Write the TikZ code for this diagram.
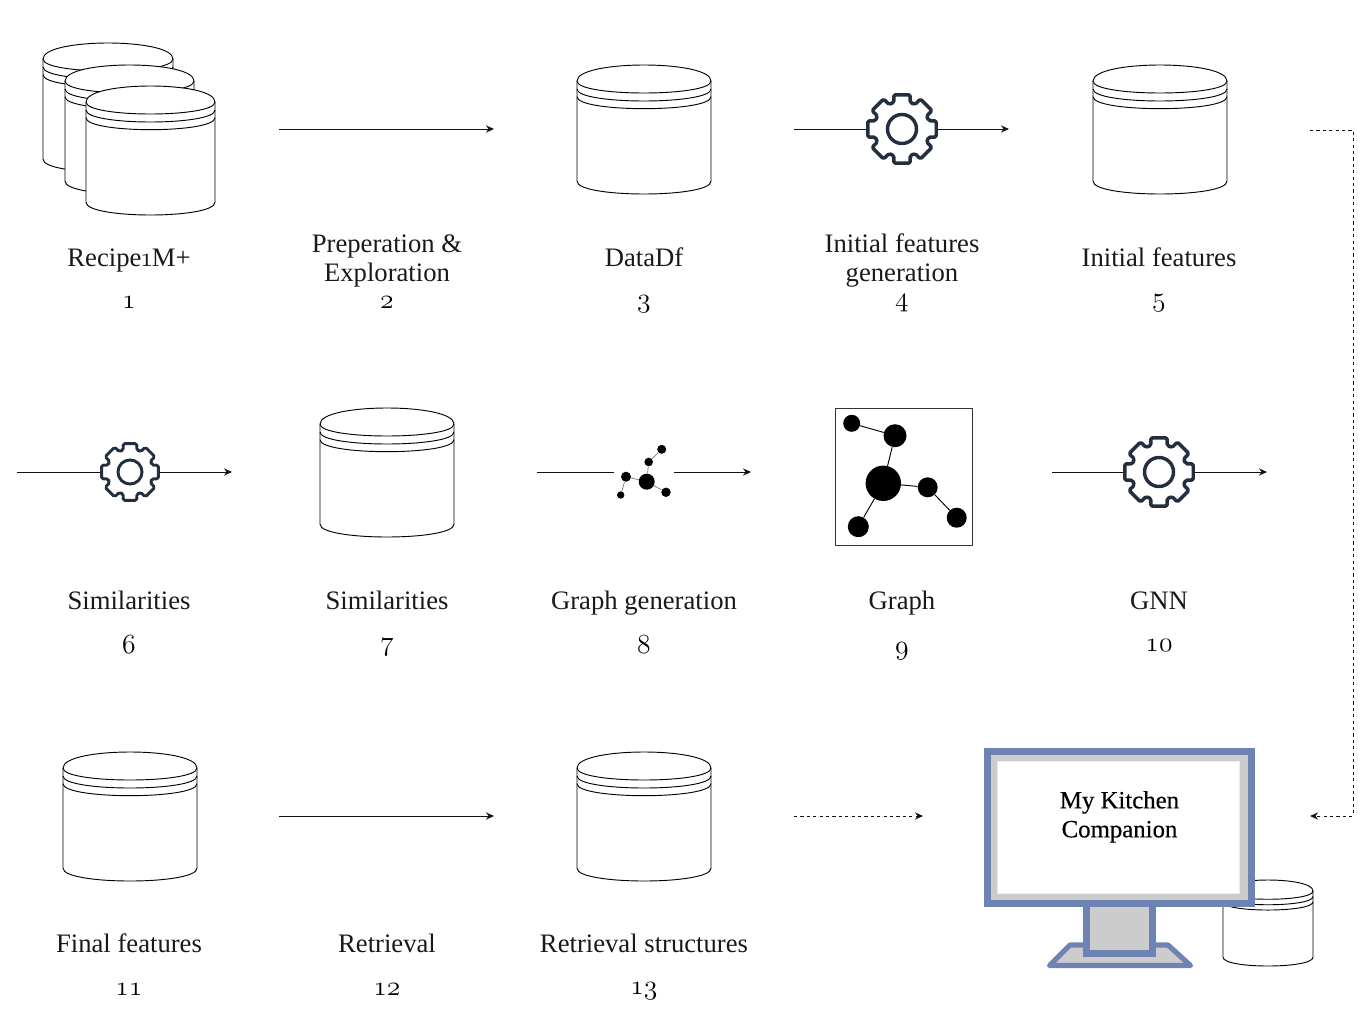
\documentclass[tikz,border=0pt]{standalone}
\usepackage{fontspec}
\setmainfont{Liberation Serif}
\newfontfamily\monfont[FakeBold=0.35]{Liberation Serif}
\usetikzlibrary{arrows.meta}
\definecolor{gearcol}{HTML}{232F3E}
\definecolor{monblue}{HTML}{6C83B4}
\definecolor{mongray}{HTML}{CCCCCC}
\definecolor{linecol}{HTML}{111111}
\tikzset{
  x=0.75pt,y=-0.75pt,
  cyl/.style={draw=black,line width=0.7pt,fill=white},
  flow/.style={draw=linecol,line width=0.7pt,-{Stealth[length=6pt,width=5.4pt]}},
  dashflow/.style={flow,dash pattern=on 2.4pt off 2.4pt},
  plainflow/.style={draw=linecol,line width=0.7pt},
  lab/.style={font=\fontsize{20}{21.75}\selectfont,align=center,inner sep=0pt,text=black!90},
  num/.style={font=\fontsize{22.5}{21.75}\selectfont,inner sep=0pt,anchor=base,text=black},
  dot/.style={circle,fill=black,inner sep=0pt},
  gearline/.style={draw=gearcol,fill=white,line join=round},
}
\newcommand{\osn}[1]{$\mathnormal{#1}$}
\newcommand{\tl}[1]{\strut #1\strut}
% x y w h dy
\newcommand{\cylinder}[5]{%
  \begin{scope}[shift={(#1,#2)}]
    \pgfmathsetmacro{\cw}{#3}\pgfmathsetmacro{\ch}{#4}\pgfmathsetmacro{\cd}{#5}
    \pgfmathsetmacro{\ct}{-\cd/3}\pgfmathsetmacro{\cb}{\ch-0.8*\cd}
    \pgfmathsetmacro{\cc}{\ch+0.8*\cd/3}
    \pgfmathsetmacro{\bA}{\cd+0.5*\cd}\pgfmathsetmacro{\bB}{\cd+0.98*\cd}
    \pgfmathsetmacro{\kA}{\cd*2}\pgfmathsetmacro{\kB}{\bA+\cd}\pgfmathsetmacro{\kC}{\bB+\cd}
    \path[cyl] (0,\cd) .. controls (0,\ct) and (\cw,\ct) .. (\cw,\cd) -- (\cw,\cb)
      .. controls (\cw,\cc) and (0,\cc) .. (0,\cb) -- cycle;
    \draw[cyl,fill=none] (0,\cd) .. controls (0,\kA) and (\cw,\kA) .. (\cw,\cd);
    \draw[cyl,fill=none] (0,\bA) .. controls (0,\kB) and (\cw,\kB) .. (\cw,\bA);
    \draw[cyl,fill=none] (0,\bB) .. controls (0,\kC) and (\cw,\kC) .. (\cw,\bB);
  \end{scope}}
% name cx cy scale width
\newcommand{\gear}[5]{%
  \coordinate (#1) at (#2,#3);
  \begin{scope}[shift={(#2,#3)}]
    \path[gearline,line width=#5,rounded corners=1.2pt]
      (-17:#4*27.8)
      \foreach \a in {0,45,...,315}{
        -- (\a-17:#4*27.8) -- (\a-13.5:#4*35.2) -- (\a+13.5:#4*35.2) -- (\a+17:#4*27.8)
      } -- cycle;
    \draw[draw=gearcol,line width=#5] (0,0) circle[radius=#4*14.5];
  \end{scope}}
\newcommand{\mol}[4]{\node[dot,minimum size=1.5*#4 pt] (#1) at (#2,#3) {};}
\begin{document}
\begin{tikzpicture}
\useasboundingbox (0,0) rectangle (1363,1031);
% coordinates
\coordinate (a2s) at (279,129); \coordinate (a2e) at (494,129);
\coordinate (a4s) at (794,129); \coordinate (a4e) at (1009,129);
\coordinate (a6s) at (17,472); \coordinate (a6e) at (232,472);
\coordinate (a8s) at (537,472); \coordinate (a8m) at (614,472);
\coordinate (a8n) at (674,472); \coordinate (a8e) at (751,472);
\coordinate (a10s) at (1052,472); \coordinate (a10e) at (1267,472);
\coordinate (a12s) at (279,816); \coordinate (a12e) at (494,816);
\coordinate (d1s) at (794,816); \coordinate (d1e) at (923,816);
\coordinate (d2s) at (1310,130); \coordinate (d2a) at (1353,130);
\coordinate (d2b) at (1353,816); \coordinate (d2e) at (1310,816);
% cylinders
\cylinder{43}{43}{130}{129}{16}
\cylinder{65}{65}{129}{129}{16}
\cylinder{86}{86}{129}{129}{16}
\cylinder{577}{65}{134}{129}{16}
\cylinder{1093}{65}{134}{129}{16}
\cylinder{320}{408}{134}{129}{16}
\cylinder{63}{752}{134}{129}{16}
\cylinder{577}{752}{134}{129}{16}
\cylinder{1223}{880}{90}{86}{11}
% arrows
\draw[flow] (a2s) -- (a2e);
\draw[flow] (a4s) -- (a4e);
\draw[flow] (a6s) -- (a6e);
\draw[plainflow] (a8s) -- (a8m);
\draw[flow] (a8n) -- (a8e);
\draw[flow] (a10s) -- (a10e);
\draw[flow] (a12s) -- (a12e);
\draw[dashflow] (d1s) -- (d1e);
\draw[dashflow] (d2s) -- (d2a) -- (d2b) -- (d2e);
% gears
\gear{g4}{902}{129}{1}{2.6pt}
\gear{g6}{130}{472}{0.83}{2.2pt}
\gear{g10}{1159}{472}{1}{2.6pt}
% small molecule
\mol{ma}{646.7}{481.7}{8}
\mol{mb}{626}{476.7}{5}
\mol{mc}{620.7}{495}{3.7}
\mol{md}{648.7}{462}{4.3}
\mol{me}{661.7}{449.3}{4.5}
\mol{mf}{666}{492.3}{4.7}
\draw[draw=black!55,line width=0.5pt] (ma)--(mb) (mb)--(mc) (ma)--(md) (md)--(me) (ma)--(mf);
% graph
\node[draw=black!80,line width=0.7pt,minimum width=102.75pt,minimum height=102.75pt,inner sep=0pt] (gbox) at (904.3,476.5) {};
\mol{ga}{851.7}{423.3}{8.5}
\mol{gb}{895}{435.7}{11.5}
\mol{gc}{883.3}{483.3}{17.7}
\mol{gd}{927.7}{487.3}{10}
\mol{ge}{956.7}{517.7}{10}
\mol{gf}{858.3}{526.7}{10.5}
\draw[line width=0.7pt] (ga)--(gb) (gb)--(gc) (gc)--(gd) (gd)--(ge) (gc)--(gf);
% monitor
\draw[draw=monblue,fill=mongray,line width=3.9pt,line join=round] (1049.5,965.5) -- (1070,945) -- (1168,945) -- (1190.5,965.5) -- cycle;
\draw[draw=monblue,fill=mongray,line width=4.9pt] (1086.3,900) rectangle (1152.7,953.7);
\node[draw=monblue,fill=mongray,line width=5.25pt,minimum width=197.5pt,minimum height=114.5pt,inner sep=0pt] (scrframe) at (1119.5,827.5) {};
\node[draw=black!8,fill=white,line width=0.7pt,minimum width=181.5pt,minimum height=99pt,inner sep=0pt] (screen) at (1118,827) {};
\node[align=center,inner sep=0pt,font=\monfont\fontsize{18.6}{21.75}\selectfont] (scrtext) at (1119.5,817) {\tl{My Kitchen}\\\tl{Companion}};
% labels
\node[lab] (l1) at (129,261) {\tl{Recipe\hspace{-1.2pt}\osn{1}\hspace{-1.2pt}M+}};
\node[lab] (l2) at (387,261.4) {\tl{Preperation \&}\\\tl{Exploration}};
\node[lab] (l3) at (644,261) {\tl{DataDf}};
\node[lab] (l4) at (902,261.4) {\tl{Initial features}\\\tl{generation}};
\node[lab] (l5) at (1159,261) {\tl{Initial features}};
\node[lab] (l6) at (129,604) {\tl{Similarities}};
\node[lab] (l7) at (387,604) {\tl{Similarities}};
\node[lab] (l8) at (644,604) {\tl{Graph generation}};
\node[lab] (l9) at (902,604) {\tl{Graph}};
\node[lab] (l10) at (1159,604) {\tl{GNN}};
\node[lab] (l11) at (129,947) {\tl{Final features}};
\node[lab] (l12) at (387,947) {\tl{Retrieval}};
\node[lab] (l13) at (644,947) {\tl{Retrieval structures}};
\node[num] (n1) at (129,308) {\osn{1}};
\node[num] (n2) at (387,308) {\osn{2}};
\node[num] (n3) at (644,307) {\osn{3}};
\node[num] (n4) at (902,306.5) {\osn{4}};
\node[num] (n5) at (1159,306.5) {\osn{5}};
\node[num] (n6) at (129,653) {\osn{6}};
\node[num] (n7) at (387,650) {\osn{7}};
\node[num] (n8) at (644,653) {\osn{8}};
\node[num] (n9) at (902,654) {\osn{9}};
\node[num] (n10) at (1159,651) {\osn{10}};
\node[num] (n11) at (129,995) {\osn{11}};
\node[num] (n12) at (387,995) {\osn{12}};
\node[num] (n13) at (644,994) {\osn{13}};
\end{tikzpicture}
\end{document}
